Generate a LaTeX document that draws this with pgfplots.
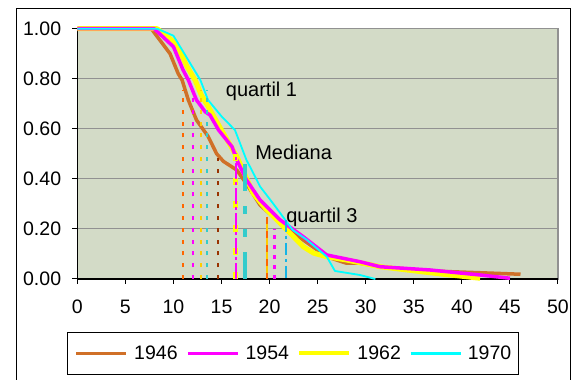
\documentclass[border=0pt]{standalone}
\usepackage{fontspec}
\setmainfont{Liberation Sans}
\usepackage{pgfplots}
\pgfplotsset{compat=1.18}
\definecolor{c46}{RGB}{208,112,40}
\definecolor{c54}{RGB}{255,0,255}
\definecolor{c62}{RGB}{255,255,0}
\definecolor{c70}{RGB}{0,255,255}
\definecolor{bg}{RGB}{211,219,199}
\definecolor{qorange}{RGB}{255,102,0}
\definecolor{qgold}{RGB}{255,204,0}
\definecolor{qteal}{RGB}{51,204,204}
\definecolor{qbrown}{RGB}{153,51,0}
\definecolor{qblue}{RGB}{20,180,230}
\definecolor{gridc}{RGB}{145,145,145}
\begin{document}
\begin{tikzpicture}[x=1pt,y=1pt]
\useasboundingbox (0,0) rectangle (574,380);
\draw[line width=1.3pt] (16.7,-5) -- (16.7,371.7) -- (570.7,371.7) -- (570.7,-5);
\begin{axis}[
  at={(77.3pt,101pt)}, anchor=south west,
  scale only axis, width=480.7pt, height=250.3pt,
  xmin=0, xmax=50, ymin=0, ymax=1,
  xtick={0,5,10,15,20,25,30,35,40,45,50},
  ytick={0,0.2,0.4,0.6,0.8,1},
  axis x line*=bottom, axis y line*=left,
  axis line style={-, black, line width=1.5pt},
  axis background/.style={fill=bg, draw=gridc, line width=1.5pt},
  ymajorgrids, grid style={gridc, line width=1pt},
  tick align=outside, major tick length=5pt,
  tick style={black, line width=1pt},
  /pgf/number format/assume math mode=true,
  tick label style={font=\fontsize{19.5}{22}\selectfont, inner sep=0pt},
  xticklabel style={yshift=-16pt},
  yticklabel style={xshift=-11pt, /pgf/number format/.cd, fixed, fixed zerofill, precision=2},
  clip=false,
  legend columns=4,
  legend style={at={(axis description cs:0.4487,-0.2976)}, anchor=center,
    draw=black, line width=1pt, inner xsep=7pt, inner ysep=13.5pt,
    font=\fontsize{19.5}{22}\selectfont,
    nodes={inner sep=0pt},
    /tikz/every odd column/.style={column sep=6pt},
    /tikz/every even column/.style={column sep=8.5pt}},
  legend cell align=left,
  legend image code/.code={\draw[#1] (0pt,0pt) -- (50pt,0pt);},
]
\addlegendimage{c46, line width=3.5pt}
\addlegendentry{1946}
\addlegendimage{c54, line width=3.5pt}
\addlegendentry{1954}
\addlegendimage{c62, line width=4pt}
\addlegendentry{1962}
\addlegendimage{c70, line width=2.5pt}
\addlegendentry{1970}

% 1946
\addplot[forget plot, c46, line width=3.5pt, line join=round] coordinates {
(0,1) (7.7,1) (9.65,0.90) (10.5,0.82) (10.9,0.795) (11.55,0.715) (12.4,0.635)
(13.6,0.57) (14.5,0.50) (15.2,0.47) (16.6,0.435) (17.6,0.38) (19.0,0.296)
(21.1,0.223) (23.5,0.156) (25.95,0.089) (28.0,0.063) (29.4,0.063) (31.5,0.049)
(36.7,0.032) (41.9,0.025) (46.1,0.019)};
% 1962
\addplot[forget plot, c62, line width=5pt, line join=round] coordinates {
(0,1) (8.3,1) (10.3,0.94) (11.4,0.85) (12.25,0.795) (12.9,0.735) (13.6,0.69)
(15.0,0.595) (16.2,0.515) (16.6,0.489) (18.3,0.342) (19.7,0.276) (21.8,0.196)
(23.5,0.129) (24.6,0.103) (25.95,0.089) (28.0,0.076) (31.5,0.049) (36.7,0.025)
(41.9,0.003)};
% 1954
\addplot[forget plot, c54, line width=3.5pt, line join=round] coordinates {
(0,1) (8.0,1) (10.0,0.928) (11.0,0.835) (11.55,0.795) (12.4,0.715) (13.3,0.668)
(13.8,0.655) (14.7,0.595) (16.1,0.528) (16.6,0.475) (17.6,0.396) (19.0,0.316)
(21.1,0.236) (23.5,0.169) (25.95,0.096) (29.4,0.069) (31.5,0.049) (36.7,0.036)
(41.9,0.016) (45.0,0.003)};
% 1970
\addplot[forget plot, c70, line width=1.8pt, line join=round] coordinates {
(0,1) (8.3,1) (10.0,0.972) (12.8,0.795) (13.6,0.715) (15.0,0.65) (16.4,0.595)
(17.6,0.475) (18.15,0.435) (19.0,0.37) (20.4,0.30) (22.4,0.196) (23.9,0.156)
(25.95,0.089) (26.8,0.032) (29.4,0.016) (31.0,0.0)};

% quartil 1
\addplot[forget plot, qorange, line width=2pt, dash pattern=on 4pt off 7.8pt] coordinates {(11.0,0) (11.0,0.755)};
\addplot[forget plot, c54, line width=2pt, dash pattern=on 4pt off 7.8pt] coordinates {(12.04,0) (12.04,0.755)};
\addplot[forget plot, qgold, line width=2pt, dash pattern=on 4pt off 7.8pt] coordinates {(12.87,0) (12.87,0.755)};
\addplot[forget plot, qteal, line width=2pt, dash pattern=on 4pt off 7.8pt] coordinates {(13.5,0) (13.5,0.755)};
% mediana
\addplot[forget plot, qbrown, line width=2pt, dash pattern=on 4pt off 7.8pt] coordinates {(14.64,0) (14.64,0.483)};
\addplot[forget plot, c62, line width=5pt, dash pattern=on 7pt off 16.5pt] coordinates {(16.5,0) (16.5,0.503)};
\addplot[forget plot, c54, line width=2.3pt, dash pattern=on 16pt off 3pt on 3pt off 3pt] coordinates {(16.48,0) (16.48,0.503)};
\addplot[forget plot, qteal, line width=4pt, dash pattern=on 27pt off 15pt on 8pt off 15pt on 8pt off 15pt] coordinates {(17.45,0) (17.45,0.469)};
% quartil 3
\addplot[forget plot, qorange, line width=2pt, dash pattern=on 7pt off 7pt] coordinates {(19.7,0.249) (19.7,0)};
\addplot[forget plot, qgold, line width=2pt, dash pattern=on 7pt off 7pt, dash phase=7pt] coordinates {(19.7,0.249) (19.7,0)};
\addplot[forget plot, c54, line width=2.5pt, dash pattern=on 3.5pt off 6.5pt] coordinates {(20.5,0) (20.5,0.2)};
\addplot[forget plot, qblue, line width=2pt, dash pattern=on 12pt off 4pt on 3pt off 4pt] coordinates {(21.7,0.236) (21.7,0)};

\node[anchor=base west, inner sep=0pt, font=\fontsize{20}{24}\selectfont] at (axis cs:15.44,0.729) {quartil 1};
\node[anchor=base west, inner sep=0pt, font=\fontsize{20}{24}\selectfont] at (axis cs:18.49,0.478) {Mediana};
\node[anchor=base west, inner sep=0pt, font=\fontsize{20}{24}\selectfont] at (axis cs:21.72,0.227) {quartil 3};
\end{axis}
\end{tikzpicture}
\end{document}
